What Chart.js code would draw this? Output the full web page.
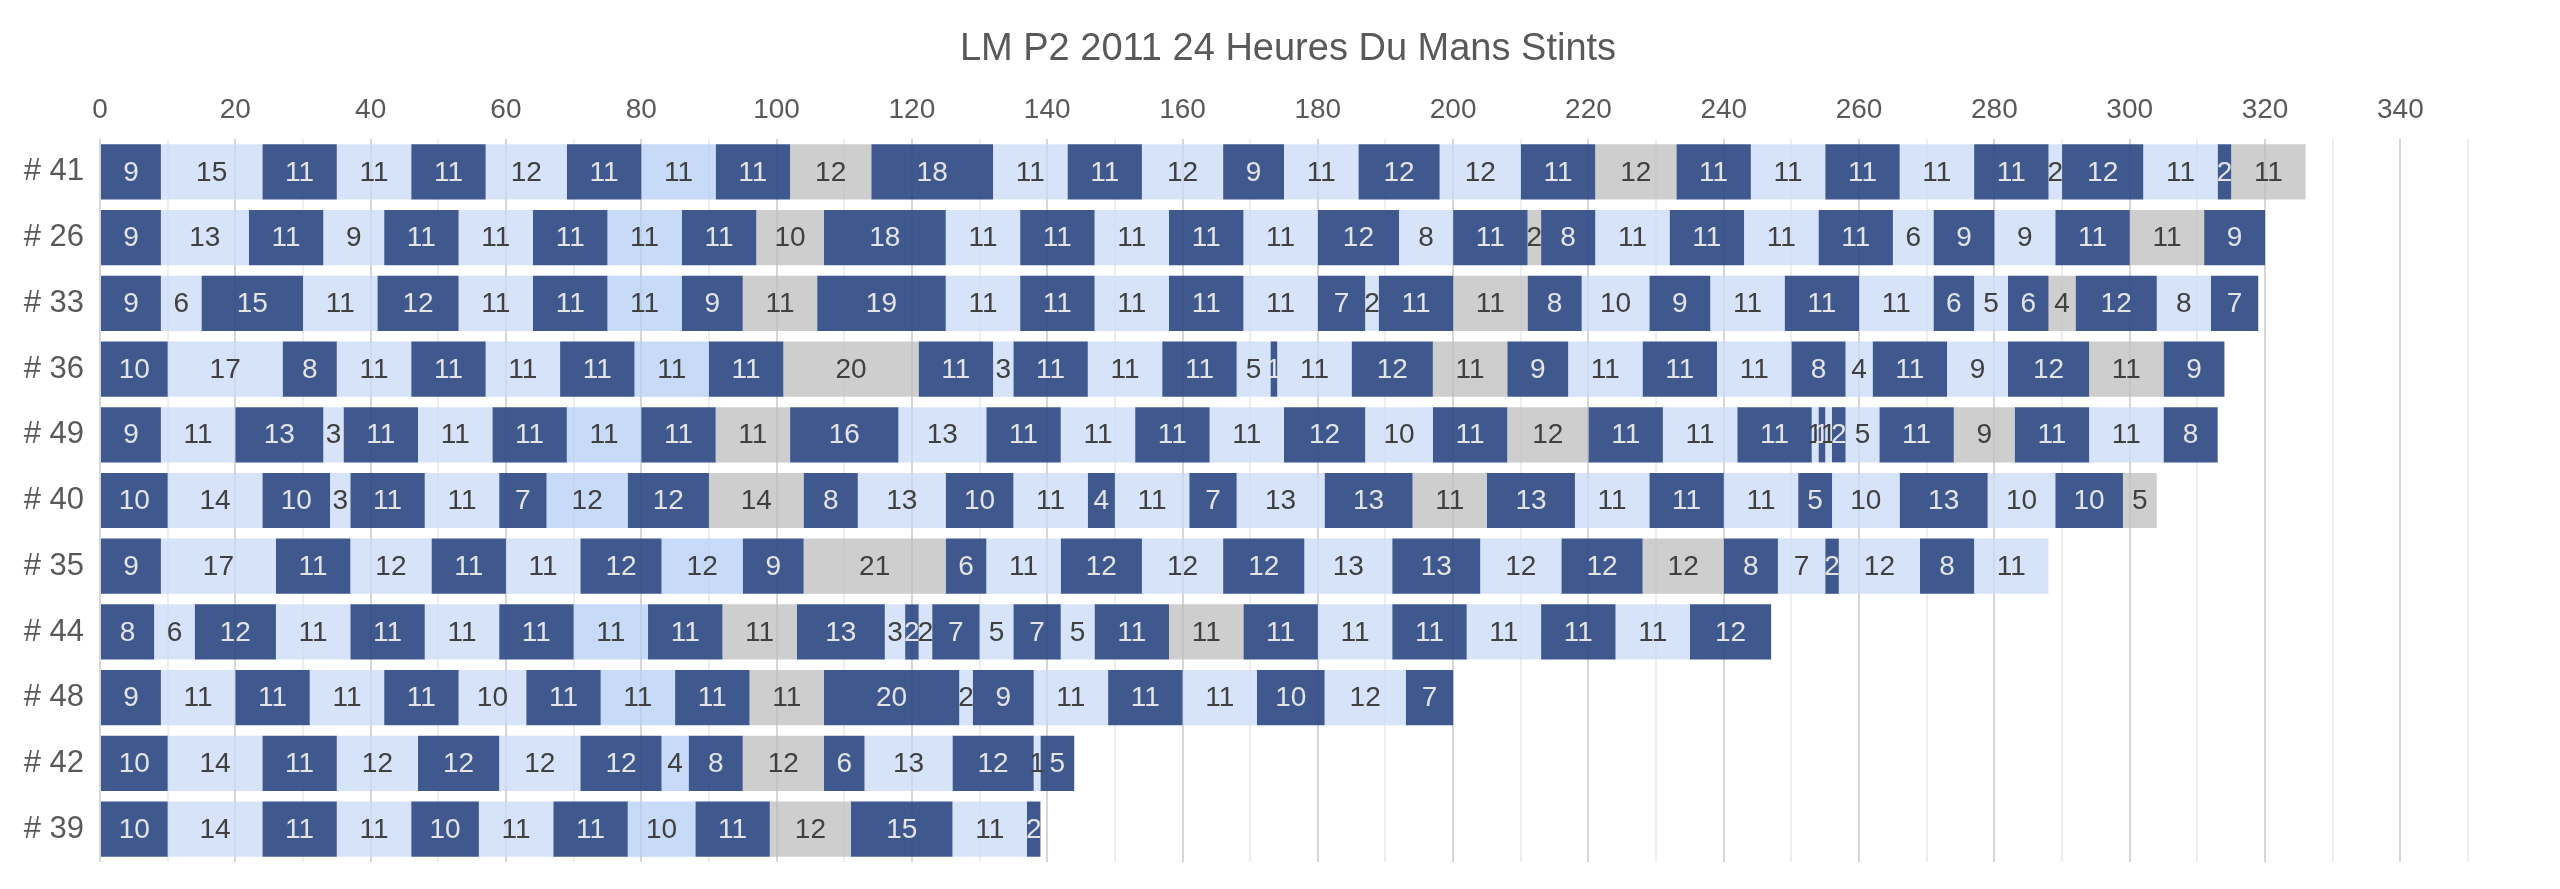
<!DOCTYPE html>
<html><head><meta charset="utf-8">
<script src="https://cdn.jsdelivr.net/npm/chart.js@4.4.0/dist/chart.umd.min.js"></script>
<style>html,body{margin:0;padding:0;background:#fff;overflow:hidden}#wrap{width:2560px;height:889px}</style>
</head><body><div id="wrap"><canvas id="c" width="2560" height="889"></canvas></div>
<script>
const chartTitle = 'LM P2 2011 24 Heures Du Mans Stints';
const cars = ['# 41','# 26','# 33','# 36','# 49','# 40','# 35','# 44','# 48','# 42','# 39'];
// laps per stint, in order, for each car
const car41 = [9,15,11,11,11,12,11,11,11,12,18,11,11,12,9,11,12,12,11,12,11,11,11,11,11,2,12,11,2,11];
const car26 = [9,13,11,9,11,11,11,11,11,10,18,11,11,11,11,11,12,8,11,2,8,11,11,11,11,6,9,9,11,11,9];
const car33 = [9,6,15,11,12,11,11,11,9,11,19,11,11,11,11,11,7,2,11,11,8,10,9,11,11,11,6,5,6,4,12,8,7];
const car36 = [10,17,8,11,11,11,11,11,11,20,11,3,11,11,11,5,1,11,12,11,9,11,11,11,8,4,11,9,12,11,9];
const car49 = [9,11,13,3,11,11,11,11,11,11,16,13,11,11,11,11,12,10,11,12,11,11,11,1,1,1,2,5,11,9,11,11,8];
const car40 = [10,14,10,3,11,11,7,12,12,14,8,13,10,11,4,11,7,13,13,11,13,11,11,11,5,10,13,10,10,5];
const car35 = [9,17,11,12,11,11,12,12,9,21,6,11,12,12,12,13,13,12,12,12,8,7,2,12,8,11];
const car44 = [8,6,12,11,11,11,11,11,11,11,13,3,2,2,7,5,7,5,11,11,11,11,11,11,11,11,12];
const car48 = [9,11,11,11,11,10,11,11,11,11,20,2,9,11,11,11,10,12,7];
const car42 = [10,14,11,12,12,12,12,4,8,12,6,13,12,1,5];
const car39 = [10,14,11,11,10,11,11,10,11,12,15,11,2];
const stintsByCar = [car41,car26,car33,car36,car49,car40,car35,car44,car48,car42,car39];
const xMin = 0, xMax = 350, xStep = 10, xLabelEvery = 20;

const FONT = "'Liberation Sans', Arial, sans-serif";
const DARK = 'rgba(47,75,133,0.92)';
const LIGHT = 'rgba(200,218,245,0.75)';
const MID = 'rgba(180,205,245,0.75)';
const GREY = 'rgba(190,190,190,0.75)';
function seriesColor(i){
  if (i % 10 === 9) return GREY;
  if (i === 7) return MID;
  return i % 2 === 0 ? DARK : LIGHT;
}
function labelColor(i){ return (i % 2 === 0) ? '#e4e4e4' : '#404040'; }

const maxStints = Math.max(...stintsByCar.map(a => a.length));
const datasets = [];
for (let i = 0; i < maxStints; i++) {
  datasets.push({
    label: 'Stint ' + (i + 1),
    data: stintsByCar.map(a => (i < a.length ? a[i] : null)),
    backgroundColor: seriesColor(i),
    borderWidth: 0,
    barPercentage: 0.84,
    categoryPercentage: 1
  });
}

const valueLabels = {
  id: 'valueLabels',
  afterDatasetsDraw(chart) {
    const ctx = chart.ctx;
    ctx.save();
    ctx.font = '28px ' + FONT;
    ctx.textAlign = 'center';
    ctx.textBaseline = 'middle';
    chart.data.datasets.forEach((ds, i) => {
      const meta = chart.getDatasetMeta(i);
      meta.data.forEach((el, j) => {
        const v = ds.data[j];
        if (v == null) return;
        const p = el.getProps(['x', 'y', 'base'], true);
        ctx.fillStyle = labelColor(i);
        ctx.fillText(String(v), (p.x + p.base) / 2, p.y + 1);
      });
    });
    ctx.restore();
  }
};

const pageTitle = {
  id: 'pageTitle',
  afterDraw(chart) {
    const ctx = chart.ctx;
    ctx.save();
    ctx.font = '38px ' + FONT;
    ctx.fillStyle = '#595959';
    ctx.textAlign = 'center';
    ctx.textBaseline = 'middle';
    ctx.fillText(chartTitle, chart.width / 2 + 8, 50);
    ctx.restore();
  }
};

new Chart(document.getElementById('c'), {
  type: 'bar',
  data: { labels: cars, datasets },
  options: {
    indexAxis: 'y',
    responsive: false,
    devicePixelRatio: 1,
    animation: false,
    layout: { padding: { left: 0, right: 92, top: 80, bottom: 27 } },
    plugins: {
      legend: { display: false },
      tooltip: { enabled: false },
      title: { display: false }
    },
    scales: {
      x: {
        type: 'linear', position: 'top', stacked: true,
        min: xMin, max: xMax,
        ticks: {
          stepSize: xStep, autoSkip: false, maxRotation: 0,
          callback: v => (v % xLabelEvery === 0 ? String(v) : ''),
          color: '#595959', font: { family: FONT, size: 28 }, padding: 12
        },
        grid: {
          drawTicks: false, lineWidth: 2,
          color: c => (c.tick && c.tick.value % xLabelEvery === 0 ? '#d6d6d6' : '#eeeeee')
        },
        border: { display: false },
        afterFit(s) { s.height = 59; }
      },
      y: {
        stacked: true,
        ticks: { color: '#595959', font: { family: FONT, size: 31 }, padding: 8 },
        grid: { display: false },
        border: { display: false },
        afterFit(s) { s.width = 100; }
      }
    }
  },
  plugins: [valueLabels, pageTitle]
});
</script></body></html>
